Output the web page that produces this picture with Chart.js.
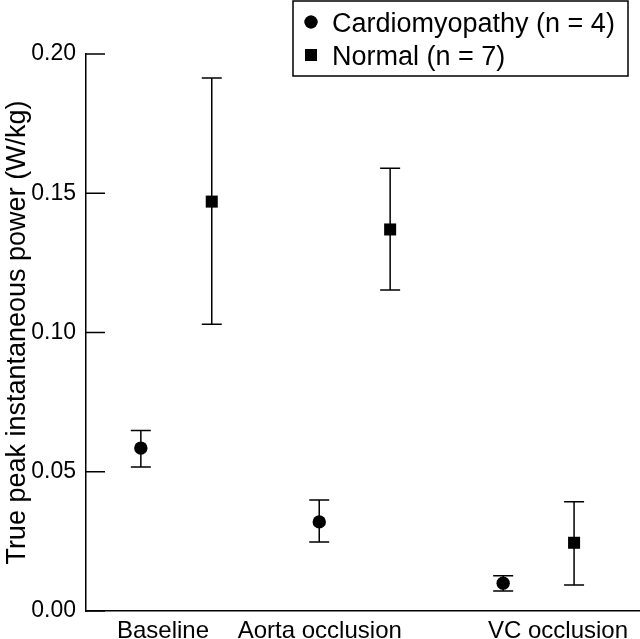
<!DOCTYPE html>
<html>
<head>
<meta charset="utf-8">
<script src="https://cdn.jsdelivr.net/npm/chart.js@4.4.1/dist/chart.umd.min.js"></script>
<style>
  html, body { margin: 0; padding: 0; background: #fff; }
</style>
</head>
<body>
<canvas id="chart" width="640" height="639"></canvas>
<script>
// categories and where their labels sit on the 0-10 x scale
const categories = ['Baseline', 'Aorta occlusion', 'VC occlusion'];
const categoryPos = [1.39, 4.22, 8.52];

// Cardiomyopathy (n = 4): mean and error bar ends
const cardioPos = [0.99, 4.21, 7.53];
const cardioMean = [0.0585, 0.0320, 0.0100];
const cardioLow = [0.0517, 0.0248, 0.0072];
const cardioHigh = [0.0648, 0.0399, 0.0127];

// Normal (n = 7)
const normalPos = [2.27, 5.49, 8.81];
const normalMean = [0.1470, 0.1370, 0.0245];
const normalLow = [0.1030, 0.1153, 0.0093];
const normalHigh = [0.1914, 0.1590, 0.0392];

const yTicks = [0, 0.05, 0.10, 0.15, 0.20];

const FONT = 'Liberation Sans, Arial, Helvetica, sans-serif';

function toPoints(xs, ys) {
    return xs.map((x, i) => ({ x: x, y: ys[i] }));
}

// vertical error bars with caps, drawn under the markers
const errorBars = {
    id: 'errorBars',
    beforeDatasetsDraw(chart) {
        const ctx = chart.ctx;
        const xs = chart.scales.x, ys = chart.scales.y;
        ctx.save();
        ctx.strokeStyle = '#000';
        ctx.lineWidth = 1.5;
        chart.data.datasets.forEach(ds => {
            ds.data.forEach((p, i) => {
                const px = xs.getPixelForValue(p.x);
                const lo = ys.getPixelForValue(ds.low[i]);
                const hi = ys.getPixelForValue(ds.high[i]);
                ctx.beginPath();
                ctx.moveTo(px, lo); ctx.lineTo(px, hi);
                ctx.moveTo(px - 10, lo); ctx.lineTo(px + 10, lo);
                ctx.moveTo(px - 10, hi); ctx.lineTo(px + 10, hi);
                ctx.stroke();
            });
        });
        ctx.restore();
    }
};

// y ticks point into the plot
const innerTicks = {
    id: 'innerTicks',
    afterDraw(chart) {
        const ctx = chart.ctx;
        const ys = chart.scales.y;
        const left = chart.chartArea.left;
        ctx.save();
        ctx.strokeStyle = '#000';
        ctx.lineWidth = 1.5;
        ys.ticks.forEach(t => {
            const py = ys.getPixelForValue(t.value);
            ctx.beginPath();
            ctx.moveTo(left, py); ctx.lineTo(left + 19, py);
            ctx.stroke();
        });
        ctx.restore();
    }
};

// boxed legend, top right
const boxLegend = {
    id: 'boxLegend',
    afterDraw(chart) {
        const ctx = chart.ctx;
        const x0 = 293, y0 = 1, w = 335, h = 75;
        ctx.save();
        ctx.fillStyle = '#fff';
        ctx.fillRect(x0, y0, w, h);
        ctx.strokeStyle = '#000';
        ctx.lineWidth = 1.5;
        ctx.strokeRect(x0, y0, w, h);
        ctx.font = '27px ' + FONT;
        ctx.textBaseline = 'alphabetic';
        ctx.fillStyle = '#000';
        chart.data.datasets.forEach((ds, i) => {
            const cy = 22 + i * 33;
            Chart.helpers.drawPoint(ctx, {
                pointStyle: ds.pointStyle, radius: ds.pointStyle === 'rect' ? 8.5 : 6.5,
                borderWidth: 0
            }, x0 + 18, cy);
            ctx.fill();
            ctx.fillText(ds.label, x0 + 39, cy + 10);
        });
        ctx.restore();
    }
};

new Chart(document.getElementById('chart'), {
    type: 'scatter',
    data: {
        datasets: [{
            label: 'Cardiomyopathy (n = 4)',
            data: toPoints(cardioPos, cardioMean),
            low: cardioLow,
            high: cardioHigh,
            pointStyle: 'circle',
            pointRadius: 6.7,
            backgroundColor: '#000',
            borderColor: '#000',
            borderWidth: 0
        }, {
            label: 'Normal (n = 7)',
            data: toPoints(normalPos, normalMean),
            low: normalLow,
            high: normalHigh,
            pointStyle: 'rect',
            pointRadius: 8.5,
            backgroundColor: '#000',
            borderColor: '#000',
            borderWidth: 0
        }]
    },
    options: {
        responsive: false,
        animation: false,
        layout: {
            autoPadding: false,
            padding: { top: 54, right: 0, left: 0, bottom: 0 }
        },
        plugins: {
            legend: { display: false },
            tooltip: { enabled: false }
        },
        scales: {
            x: {
                type: 'linear',
                min: 0,
                max: 10,
                afterBuildTicks: scale => {
                    scale.ticks = categoryPos.map(v => ({ value: v }));
                },
                afterFit: scale => {
                    scale.height = 28;
                    scale.paddingRight = 0;
                    scale.paddingLeft = 0;
                },
                ticks: {
                    autoSkip: false,
                    maxRotation: 0,
                    padding: 6,
                    color: '#000',
                    font: { family: FONT, size: 24 },
                    callback: value => categories[categoryPos.indexOf(value)]
                },
                grid: { drawOnChartArea: false, drawTicks: false },
                border: { display: true, color: '#000', width: 1.5 }
            },
            y: {
                min: 0,
                max: 0.2,
                afterBuildTicks: scale => {
                    scale.ticks = yTicks.map(v => ({ value: v }));
                },
                afterFit: scale => { scale.width = 86; },
                ticks: {
                    padding: 10,
                    color: '#000',
                    font: { family: FONT, size: 23 },
                    callback: value => value.toFixed(2)
                },
                grid: { drawOnChartArea: false, drawTicks: false },
                border: { display: true, color: '#000', width: 1.5 },
                title: {
                    display: true,
                    text: 'True peak instantaneous power (W/kg)',
                    color: '#000',
                    font: { family: FONT, size: 27 },
                    padding: { top: 1, bottom: 0 }
                }
            }
        }
    },
    plugins: [errorBars, innerTicks, boxLegend]
});
</script>
</body>
</html>
